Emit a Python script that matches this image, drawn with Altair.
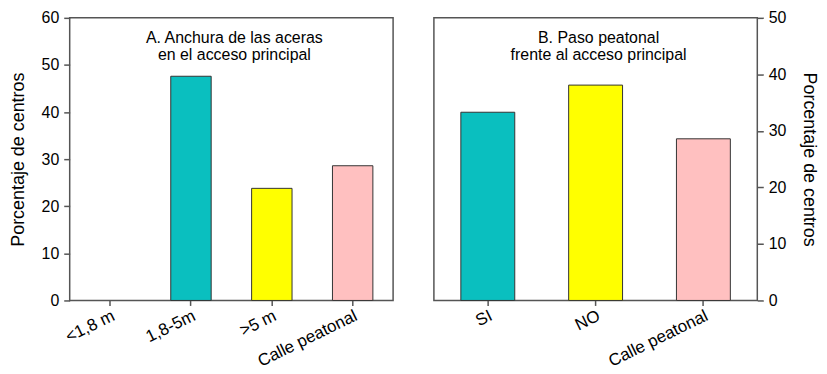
import altair as alt
import pandas as pd

FONT = "Liberation Sans"

# Panel A data
cat_a = ["<1,8 m", "1,8-5m", ">5 m", "Calle peatonal"]
val_a = [0, 47.6, 23.8, 28.6]
col_a = ["#0ABFBF", "#0ABFBF", "#FFFF00", "#FFC0C0"]
title_a = "A. Anchura de las aceras\nen el acceso principal"

# Panel B data
cat_b = ["SI", "NO", "Calle peatonal"]
val_b = [33.3, 38.1, 28.6]
col_b = ["#0ABFBF", "#FFFF00", "#FFC0C0"]
title_b = "B. Paso peatonal\nfrente al acceso principal"

y_title = "Porcentaje de centros"
ticks_a = [0, 10, 20, 30, 40, 50, 60]
ticks_b = [0, 10, 20, 30, 40, 50]

W, H = 325, 284


def panel(cats, vals, cols, title, ymax, yticks, orient):
    df = pd.DataFrame({"cat": cats, "val": vals, "col": cols})
    bars = alt.Chart(df).mark_bar(strokeWidth=1).encode(
        x=alt.X(
            "cat:N",
            sort=cats,
            scale=alt.Scale(paddingInner=0.5, paddingOuter=0.25),
            axis=alt.Axis(
                title=None,
                labelAngle=-26,
                labelAlign="right",
                labelBaseline="top",
                labelFontSize=17,
                tickSize=5,
                labelPadding=2,
                domain=False,
            ),
        ),
        y=alt.Y(
            "val:Q",
            scale=alt.Scale(domain=[0, ymax], nice=False),
            axis=alt.Axis(
                title=y_title,
                orient=orient,
                values=yticks,
                grid=False,
                domain=False,
                tickSize=6,
                labelPadding=5,
                labelFontSize=16,
                titleFontSize=18,
                titlePadding=14,
            ),
        ),
        color=alt.Color("col:N", scale=None, legend=None),
        stroke=alt.condition(
            "datum.val > 0", alt.value("#333333"), alt.value("transparent")
        ),
    )
    tdf = pd.DataFrame({"t": [title]})
    txt = alt.Chart(tdf).mark_text(
        lineBreak="\n",
        fontSize=16,
        font=FONT,
        align="center",
        baseline="top",
        lineHeight=17.5,
        color="black",
    ).encode(text="t:N", x=alt.value(W / 2 + 3), y=alt.value(12))
    return alt.layer(bars, txt).properties(width=W, height=H)


left = panel(cat_a, val_a, col_a, title_a, 60, ticks_a, "left")
right = panel(cat_b, val_b, col_b, title_b, 50, ticks_b, "right")

chart = (
    alt.hconcat(left, right, spacing=39)
    .properties(padding={"left": 0, "top": 0, "right": 0, "bottom": 0})
    .configure_view(stroke="#555555", strokeWidth=1.5)
    .configure_axis(
        labelFont=FONT,
        titleFont=FONT,
        labelColor="black",
        titleColor="black",
        titleFontWeight="normal",
        tickColor="#555555",
        tickWidth=1.5,
    )
)

chart.save("out.html", embed_options={"renderer": "svg", "actions": False})
